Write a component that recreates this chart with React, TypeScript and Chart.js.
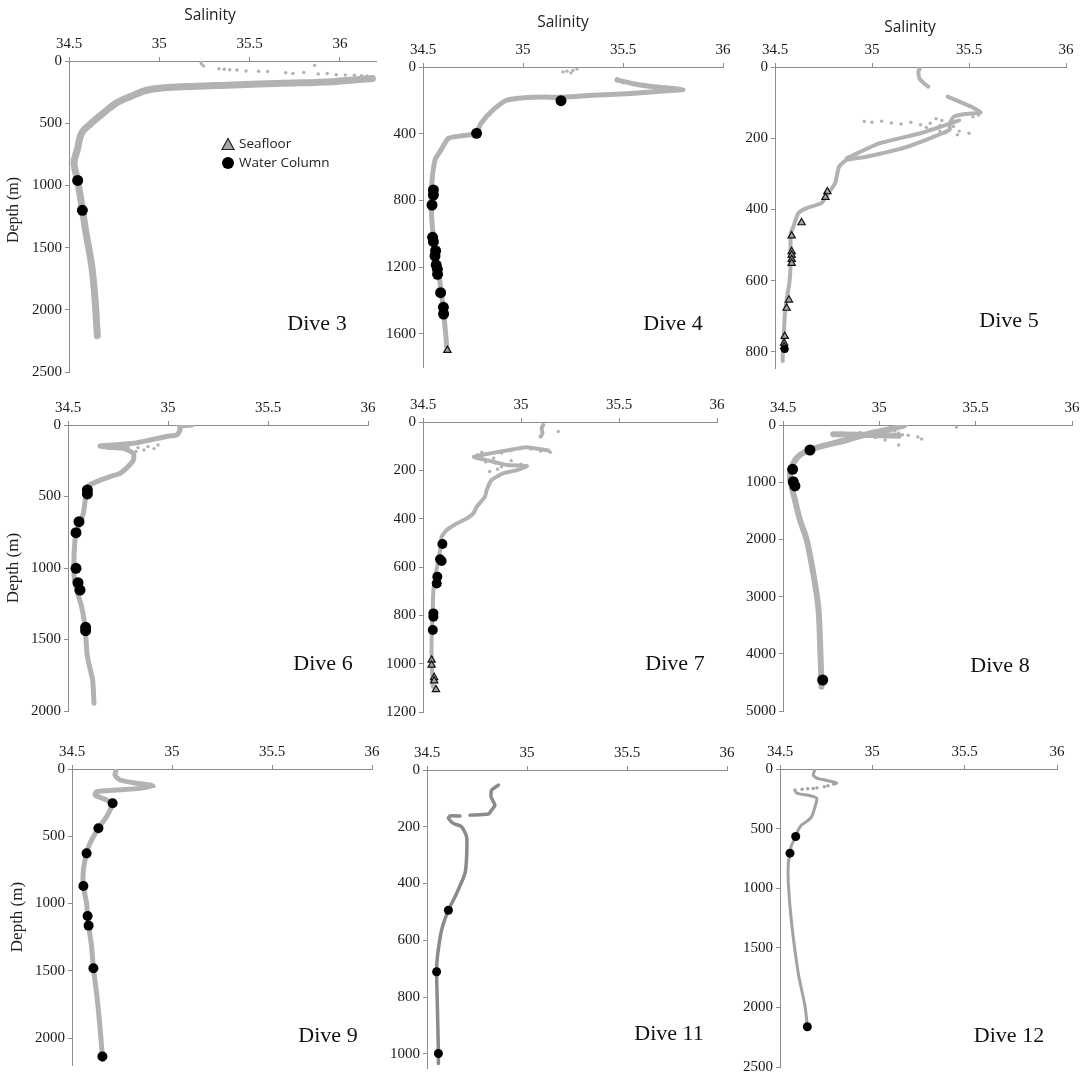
import React, { useEffect, useRef } from "react";
import { Chart, registerables } from "chart.js";

Chart.register(...registerables);

type P = [number, number];

// ---------- tick labels ----------
const salinityTicks = [34.5, 35, 35.5, 36];
const dive3DepthTicks = [0, 500, 1000, 1500, 2000, 2500];
const dive4DepthTicks = [0, 400, 800, 1200, 1600];
const dive5DepthTicks = [0, 200, 400, 600, 800];
const dive6DepthTicks = [0, 500, 1000, 1500, 2000];
const dive7DepthTicks = [0, 200, 400, 600, 800, 1000, 1200];
const dive8DepthTicks = [0, 1000, 2000, 3000, 4000, 5000];
const dive9DepthTicks = [0, 500, 1000, 1500, 2000];
const dive11DepthTicks = [0, 200, 400, 600, 800, 1000];
const dive12DepthTicks = [0, 500, 1000, 1500, 2000, 2500];

// ---------- Dive 3 ----------
const dive3Profile: P[] = [[36.18,140],[35.96,166],[35.69,179],[35.41,192],[35.08,211],[34.93,235],[34.84,286],[34.76,339],[34.69,419],[34.62,505],[34.57,579],[34.546,713],[34.528,820],[34.548,961],[34.574,1193],[34.594,1380],[34.626,1648],[34.644,1914],[34.657,2208]];
const dive3Scatter: P[] = [[35.23,8],[35.235,25],[35.245,40],[35.33,62],[35.36,66],[35.39,70],[35.43,72],[35.48,80],[35.55,82],[35.6,84],[35.7,95],[35.74,100],[35.8,92],[35.86,35],[35.88,104],[35.93,100],[35.98,110],[36.03,112],[36.08,115],[36.12,118],[36.15,120]];
const dive3Water: P[] = [[34.548,960],[34.574,1200]];
const dive3Seafloor: P[] = [];

// ---------- Dive 4 ----------
const dive4Profile: P[] = [[35.47,78],[35.55,100],[35.68,122],[35.8,135],[35.69,145],[35.52,160],[35.35,170],[35.2,182],[35.1,180],[35.02,183],[34.92,198],[34.85,258],[34.79,338],[34.765,398],[34.685,414],[34.627,428],[34.585,508],[34.56,558],[34.543,718],[34.543,898],[34.56,1096],[34.59,1336],[34.61,1558],[34.62,1690]];
const dive4Scatter: P[] = [[35.2,30],[35.22,25],[35.25,20],[35.27,12],[35.24,35],[35.4,165],[35.3,175],[35.15,188],[35.6,150],[35.5,95],[35.47,70],[35.66,130]];
const dive4Water: P[] = [[35.19,202],[34.768,398],[34.552,738],[34.552,768],[34.545,828],[34.548,1022],[34.552,1048],[34.563,1102],[34.56,1134],[34.566,1188],[34.572,1214],[34.573,1244],[34.588,1354],[34.602,1442],[34.603,1482]];
const dive4Seafloor: P[] = [[34.622,1700]];

// ---------- Dive 5 ----------
const dive5ProfileTop: P[] = [[35.247,4],[35.239,13],[35.244,32],[35.268,46],[35.29,55]];
const dive5Profile: P[] = [[35.39,83],[35.45,97],[35.51,111],[35.56,128],[35.48,132],[35.42,140],[35.4,160],[35.4,177],[35.18,224],[34.97,252],[34.87,261],[34.83,280],[34.81,326],[34.775,354],[34.74,382],[34.663,396],[34.62,410],[34.595,448],[34.581,467],[34.58,510],[34.58,561],[34.574,607],[34.56,654],[34.55,700],[34.546,747],[34.54,803],[34.54,825]];
const dive5Branch: P[] = [[35.45,150],[35.25,186],[35.04,214],[34.87,256]];
const dive5Scatter: P[] = [[34.96,153],[35.0,155],[35.05,152],[35.1,157],[35.15,160],[35.2,155],[35.25,162],[35.3,158],[35.35,165],[35.4,160],[35.42,167],[35.3,175],[35.35,180],[35.38,185],[35.45,180],[35.44,190],[35.5,186],[35.36,150],[35.33,145],[35.28,170],[35.55,135],[35.52,140]];
const dive5Water: P[] = [[34.55,792]];
const dive5Seafloor: P[] = [[34.77,350],[34.76,366],[34.637,437],[34.586,474],[34.586,518],[34.586,528],[34.586,540],[34.586,551],[34.572,654],[34.56,677],[34.55,756],[34.547,775],[34.547,785]];

// ---------- Dive 6 ----------
const dive6Profile: P[] = [[35.12,0],[35.06,7],[35.06,35],[35.043,70],[34.993,80],[34.91,105],[34.827,128],[34.66,147],[34.7,155],[34.777,163],[34.827,198],[34.827,245],[34.8,291],[34.76,338],[34.71,361],[34.643,396],[34.597,431],[34.59,478],[34.577,618],[34.552,711],[34.535,804],[34.53,1037],[34.543,1154],[34.568,1270],[34.585,1410],[34.597,1620],[34.623,1783],[34.63,1946]];
const dive6Scatter: P[] = [[34.68,145],[34.72,150],[34.75,148],[34.8,152],[34.85,158],[34.9,150],[34.93,165],[34.95,140],[34.88,175],[34.84,185]];
const dive6Water: P[] = [[34.597,454],[34.597,482],[34.555,676],[34.54,753],[34.54,1002],[34.55,1103],[34.56,1154],[34.588,1415],[34.588,1438]];
const dive6Seafloor: P[] = [];

// ---------- Dive 7 ----------
const dive7ProfileTop: P[] = [[35.114,12],[35.105,26],[35.11,47],[35.1,61]];
const dive7Profile: P[] = [[35.14,118],[35.03,104],[34.89,123],[34.76,144],[34.82,157],[34.93,178],[35.03,182],[34.98,199],[34.91,212],[34.85,240],[34.825,281],[34.816,309],[34.774,351],[34.757,378],[34.723,399],[34.672,420],[34.621,447],[34.595,475],[34.59,516],[34.578,571],[34.566,627],[34.553,696],[34.55,765],[34.544,903],[34.544,985],[34.55,1096]];
const dive7Scatter: P[] = [[35.19,39],[34.78,135],[34.8,140],[34.85,130],[34.9,128],[34.95,118],[35.0,110],[35.05,112],[35.1,120],[35.15,125],[34.82,165],[34.87,170],[34.9,185],[34.95,160],[35.0,175],[34.88,195],[34.84,205],[34.86,150],[34.8,125]];
const dive7Water: P[] = [[34.599,505],[34.587,568],[34.595,575],[34.573,640],[34.57,668],[34.553,792],[34.553,806],[34.55,861]];
const dive7Seafloor: P[] = [[34.544,985],[34.544,1006],[34.557,1057],[34.557,1071],[34.566,1107]];

// ---------- Dive 8 ----------
const dive8Profile: P[] = [[35.13,5],[35.123,17],[35.037,87],[34.951,146],[34.83,262],[34.692,379],[34.64,437],[34.588,524],[34.553,670],[34.536,845],[34.545,1078],[34.562,1311],[34.588,1661],[34.623,2010],[34.657,2592],[34.683,3176],[34.692,3759],[34.7,4575]];
const dive8Branch: P[] = [[34.76,160],[34.9,170],[35.0,180],[35.1,190]];
const dive8Scatter: P[] = [[34.76,150],[34.8,140],[34.85,155],[34.9,130],[34.95,175],[35.0,120],[35.05,160],[35.1,140],[35.15,180],[35.12,170],[35.03,262],[35.1,350],[35.2,210],[35.22,245],[35.4,35],[34.98,220],[34.88,200],[34.82,180],[35.05,200],[35.08,100]];
const dive8Water: P[] = [[34.64,437],[34.55,775],[34.553,991],[34.562,1066],[34.706,4458]];
const dive8Seafloor: P[] = [];

// ---------- Dive 9 ----------
const dive9Profile: P[] = [[34.72,7],[34.715,45],[34.74,82],[34.823,106],[34.89,119],[34.9,124],[34.84,144],[34.723,156],[34.623,169],[34.615,193],[34.673,230],[34.703,255],[34.673,354],[34.632,441],[34.59,552],[34.573,627],[34.557,750],[34.557,869],[34.573,998],[34.578,1092],[34.583,1164],[34.598,1320],[34.607,1481],[34.623,1667],[34.64,1915],[34.652,2137],[34.655,2160]];
const dive9Scatter: P[] = [[34.91,128]];
const dive9Water: P[] = [[34.703,255],[34.632,441],[34.573,627],[34.557,869],[34.578,1092],[34.583,1164],[34.607,1481],[34.652,2137]];
const dive9Seafloor: P[] = [];

// ---------- Dive 11 ----------
const dive11ProfileTop: P[] = [[34.857,53],[34.823,71],[34.82,94],[34.832,112],[34.84,125],[34.823,141],[34.807,155],[34.715,159]];
const dive11Profile: P[] = [[34.665,162],[34.615,162],[34.607,170],[34.632,188],[34.673,200],[34.698,235],[34.698,306],[34.69,364],[34.648,435],[34.607,494],[34.573,564],[34.552,658],[34.548,711],[34.552,835],[34.557,999],[34.557,1034]];
const dive11Scatter: P[] = [];
const dive11Water: P[] = [[34.607,494],[34.548,711],[34.557,999]];
const dive11Seafloor: P[] = [];

// ---------- Dive 12 ----------
const dive12ProfileTop: P[] = [[34.69,6],[34.68,48],[34.7,76],[34.753,96],[34.807,118],[34.79,128]];
const dive12Profile: P[] = [[34.58,174],[34.59,202],[34.663,224],[34.699,244],[34.69,314],[34.672,398],[34.645,440],[34.618,468],[34.599,510],[34.585,566],[34.56,650],[34.554,706],[34.545,790],[34.545,958],[34.563,1294],[34.599,1714],[34.636,1994],[34.648,2162]];
const dive12Scatter: P[] = [[34.76,140],[34.74,148],[34.7,158],[34.68,163],[34.65,166],[34.62,170]];
const dive12Water: P[] = [[34.585,566],[34.554,706],[34.648,2162]];
const dive12Seafloor: P[] = [];

// ---------- panels ----------
type Panel = {
  name: string;
  lines: P[][];
  scatter: P[];
  water: P[];
  seafloor: P[];
  xMax: number;
  yMax: number;
  yTicks: number[];
};

const panels: Panel[] = [
  { name: "Dive 3", lines: [dive3Profile], scatter: dive3Scatter, water: dive3Water, seafloor: dive3Seafloor, xMax: 36.2, yMax: 2500, yTicks: dive3DepthTicks },
  { name: "Dive 4", lines: [dive4Profile], scatter: dive4Scatter, water: dive4Water, seafloor: dive4Seafloor, xMax: 36, yMax: 1800, yTicks: dive4DepthTicks },
  { name: "Dive 5", lines: [dive5ProfileTop, dive5Profile, dive5Branch], scatter: dive5Scatter, water: dive5Water, seafloor: dive5Seafloor, xMax: 36, yMax: 845, yTicks: dive5DepthTicks },
  { name: "Dive 6", lines: [dive6Profile], scatter: dive6Scatter, water: dive6Water, seafloor: dive6Seafloor, xMax: 36, yMax: 2000, yTicks: dive6DepthTicks },
  { name: "Dive 7", lines: [dive7ProfileTop, dive7Profile], scatter: dive7Scatter, water: dive7Water, seafloor: dive7Seafloor, xMax: 36, yMax: 1200, yTicks: dive7DepthTicks },
  { name: "Dive 8", lines: [dive8Profile, dive8Branch], scatter: dive8Scatter, water: dive8Water, seafloor: dive8Seafloor, xMax: 36, yMax: 5000, yTicks: dive8DepthTicks },
  { name: "Dive 9", lines: [dive9Profile], scatter: dive9Scatter, water: dive9Water, seafloor: dive9Seafloor, xMax: 36, yMax: 2200, yTicks: dive9DepthTicks },
  { name: "Dive 11", lines: [dive11ProfileTop, dive11Profile], scatter: dive11Scatter, water: dive11Water, seafloor: dive11Seafloor, xMax: 36, yMax: 1050, yTicks: dive11DepthTicks },
  { name: "Dive 12", lines: [dive12ProfileTop, dive12Profile], scatter: dive12Scatter, water: dive12Water, seafloor: dive12Seafloor, xMax: 36, yMax: 2500, yTicks: dive12DepthTicks },
];

// layout (pixel positions of plot areas) and styles, separate from the data
type Layout = {
  left: number; top: number; w: number; h: number;
  color: string; lw: number; dot: number; tension: number;
  label: [number, number];
  salinity?: [number, number];
  depth?: [number, number, number];
};

const layouts: Layout[] = [
  { left: 69, top: 61, w: 307, h: 311, color: "#b2b2b2", lw: 7, dot: 5.5, tension: 0.35, label: [317, 323], salinity: [210, 15], depth: [13, 210, 16] },
  { left: 423, top: 67, w: 300, h: 300, color: "#b2b2b2", lw: 5, dot: 5.5, tension: 0.2, label: [673, 323], salinity: [563, 22] },
  { left: 775, top: 67, w: 291, h: 301, color: "#b2b2b2", lw: 4, dot: 4, tension: 0.15, label: [1009, 320], salinity: [910, 27] },
  { left: 68, top: 425, w: 300, h: 286, color: "#b2b2b2", lw: 5, dot: 5.5, tension: 0.2, label: [323, 663], depth: [12, 568, 17] },
  { left: 423, top: 422, w: 294, h: 290, color: "#b2b2b2", lw: 4, dot: 5, tension: 0.15, label: [675, 663] },
  { left: 783, top: 425, w: 289, h: 286, color: "#b2b2b2", lw: 6, dot: 5.5, tension: 0.35, label: [1000, 665] },
  { left: 72, top: 769, w: 300, h: 296, color: "#b2b2b2", lw: 5, dot: 5, tension: 0.2, label: [328, 1035], depth: [16, 917, 17] },
  { left: 427, top: 770, w: 300, h: 298, color: "#8a8a8a", lw: 3.5, dot: 4.5, tension: 0.2, label: [669, 1033] },
  { left: 780, top: 769, w: 277, h: 298, color: "#a2a2a2", lw: 3, dot: 4.5, tension: 0.25, label: [1009, 1035] },
];

const AW = 60;
const AH = 40;
const RP = 24;
const BP = 20;
const AXIS_COLOR = "#8c8c8c";
const TICK_FONT = { family: "'Liberation Serif', 'Times New Roman', serif", size: 15 };

const toXY = (a: P[]) => a.map(([x, y]) => ({ x, y }));

function PanelChart({ panel, layout }: { panel: Panel; layout: Layout }) {
  const ref = useRef<HTMLCanvasElement | null>(null);
  const cw = layout.w + AW + RP;
  const ch = layout.h + AH + BP;

  useEffect(() => {
    if (!ref.current) return;
    const datasets: any[] = [
      {
        label: "Water Column",
        data: toXY(panel.water),
        pointStyle: "circle",
        pointRadius: layout.dot,
        backgroundColor: "#000",
        borderColor: "#000",
        borderWidth: 0,
        showLine: false,
        order: 0,
      },
      {
        label: "Seafloor",
        data: toXY(panel.seafloor),
        pointStyle: "triangle",
        pointRadius: 4.2,
        backgroundColor: "#a6a6a6",
        borderColor: "#111",
        borderWidth: 1.2,
        showLine: false,
        order: 1,
      },
      {
        label: "scatter",
        data: toXY(panel.scatter),
        pointStyle: "circle",
        pointRadius: 1.7,
        backgroundColor: layout.color,
        borderWidth: 0,
        showLine: false,
        order: 2,
      },
      ...panel.lines.map((l, i) => ({
        label: "profile" + i,
        data: toXY(l),
        showLine: true,
        borderColor: layout.color,
        borderWidth: layout.lw,
        borderJoinStyle: "round",
        borderCapStyle: "round",
        pointRadius: 0,
        tension: layout.tension,
        order: 3,
      })),
    ];

    const chart = new Chart(ref.current, {
      type: "scatter",
      data: { datasets },
      options: {
        animation: false,
        responsive: false,
        maintainAspectRatio: false,
        events: [],
        layout: { padding: { left: 0, top: 0, right: RP, bottom: BP } },
        plugins: { legend: { display: false }, tooltip: { enabled: false }, title: { display: false } },
        scales: {
          x: {
            type: "linear",
            position: "top",
            min: 34.5,
            max: panel.xMax,
            afterBuildTicks: (ax: any) => {
              ax.ticks = salinityTicks.map((v) => ({ value: v }));
            },
            afterFit: (ax: any) => {
              ax.height = AH;
            },
            grid: { drawOnChartArea: false, drawTicks: true, tickLength: 4, color: AXIS_COLOR, lineWidth: 1 },
            border: { display: true, color: AXIS_COLOR, width: 1 },
            ticks: {
              padding: 4,
              color: "#1a1a1a",
              font: TICK_FONT,
              maxRotation: 0,
              autoSkip: false,
              callback: (v: any) => String(v),
            },
          },
          y: {
            type: "linear",
            position: "left",
            reverse: true,
            min: 0,
            max: panel.yMax,
            afterBuildTicks: (ax: any) => {
              ax.ticks = panel.yTicks.map((v) => ({ value: v }));
            },
            afterFit: (ax: any) => {
              ax.width = AW;
            },
            grid: { drawOnChartArea: false, drawTicks: true, tickLength: 4, color: AXIS_COLOR, lineWidth: 1 },
            border: { display: true, color: AXIS_COLOR, width: 1 },
            ticks: {
              padding: 3,
              color: "#1a1a1a",
              font: TICK_FONT,
              autoSkip: false,
              callback: (v: any) => String(v),
            },
          },
        },
      } as any,
    });
    return () => chart.destroy();
  }, [panel, layout]);

  return (
    <canvas
      ref={ref}
      width={cw}
      height={ch}
      style={{ position: "absolute", left: layout.left - AW, top: layout.top - AH, width: cw, height: ch }}
    />
  );
}

const serif = "'Liberation Serif', 'Times New Roman', serif";
const sans = "'Open Sans', 'Noto Sans', sans-serif";

export default function App() {
  return (
    <div
      style={{
        position: "absolute",
        left: 0,
        top: 0,
        width: 1084,
        height: 1080,
        background: "#fff",
        overflow: "hidden",
      }}
    >
      {panels.map((p, i) => (
        <PanelChart key={p.name} panel={p} layout={layouts[i]} />
      ))}
      {panels.map((p, i) => {
        const l = layouts[i];
        return (
          <React.Fragment key={"t" + p.name}>
            <div
              style={{
                position: "absolute",
                left: l.label[0],
                top: l.label[1],
                transform: "translate(-50%, -50%)",
                fontFamily: serif,
                fontSize: 22,
                color: "#111",
                whiteSpace: "nowrap",
                lineHeight: 1,
              }}
            >
              {p.name}
            </div>
            {l.salinity && (
              <div
                style={{
                  position: "absolute",
                  left: l.salinity[0],
                  top: l.salinity[1],
                  transform: "translate(-50%, -50%)",
                  fontFamily: sans,
                  fontSize: 15.5,
                  color: "#222",
                  whiteSpace: "nowrap",
                  lineHeight: 1,
                }}
              >
                Salinity
              </div>
            )}
            {l.depth && (
              <div
                style={{
                  position: "absolute",
                  left: l.depth[0],
                  top: l.depth[1],
                  transform: "translate(-50%, -50%) rotate(-90deg)",
                  fontFamily: serif,
                  fontSize: l.depth[2],
                  color: "#222",
                  whiteSpace: "nowrap",
                  lineHeight: 1,
                }}
              >
                Depth (m)
              </div>
            )}
          </React.Fragment>
        );
      })}
      {/* legend (Dive 3 panel) */}
      <div style={{ position: "absolute", left: 221, top: 135, fontFamily: sans, fontSize: 13.5, color: "#222", lineHeight: 1 }}>
        <div style={{ display: "flex", alignItems: "center", height: 18 }}>
          <svg width="14" height="14" style={{ marginRight: 4 }}>
            <polygon points="7,1.5 13,12.5 1,12.5" fill="#a6a6a6" stroke="#222" strokeWidth="1.2" />
          </svg>
          <span>Seafloor</span>
        </div>
        <div style={{ display: "flex", alignItems: "center", height: 20 }}>
          <svg width="14" height="14" style={{ marginRight: 4 }}>
            <circle cx="7" cy="7" r="6" fill="#000" />
          </svg>
          <span>Water Column</span>
        </div>
      </div>
    </div>
  );
}
